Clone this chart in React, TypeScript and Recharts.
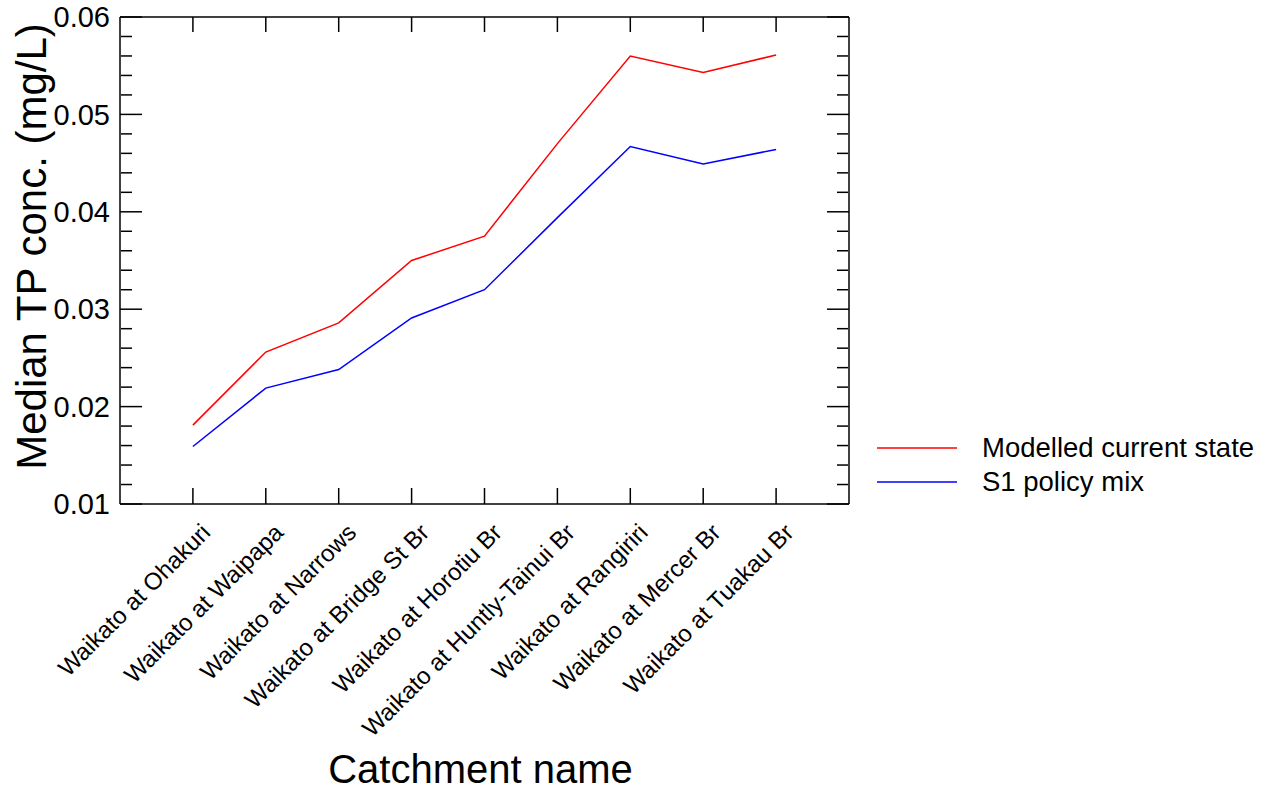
import React from 'react';
import { LineChart, Line, XAxis, YAxis, Legend } from 'recharts';

const categories = [
  'Waikato at Ohakuri',
  'Waikato at Waipapa',
  'Waikato at Narrows',
  'Waikato at Bridge St Br',
  'Waikato at Horotiu Br',
  'Waikato at Huntly-Tainui Br',
  'Waikato at Rangiriri',
  'Waikato at Mercer Br',
  'Waikato at Tuakau Br',
];
const modelledCurrentState = [0.0181, 0.0256, 0.0286, 0.035, 0.0375, 0.047, 0.056, 0.0543, 0.0561];
const s1PolicyMix = [0.0159, 0.0219, 0.0238, 0.0291, 0.032, 0.0394, 0.0467, 0.0449, 0.0464];
const categoryPositions = [1, 2, 3, 4, 5, 6, 7, 8, 9];
const xDomain = [0, 10];
const yDomain = [0.01, 0.06];
const yMajorTicks = [0.01, 0.02, 0.03, 0.04, 0.05, 0.06];
const yTickLabels = ['0.01', '0.02', '0.03', '0.04', '0.05', '0.06'];
const yMinorTicks = [
  0.012, 0.014, 0.016, 0.018, 0.022, 0.024, 0.026, 0.028, 0.032, 0.034, 0.036, 0.038,
  0.042, 0.044, 0.046, 0.048, 0.052, 0.054, 0.056, 0.058,
];
const seriesNames = ['Modelled current state', 'S1 policy mix'];
const seriesColors = ['#ff0000', '#0000ff'];

const data = categories.map((name, i) => ({
  pos: categoryPositions[i],
  name,
  modelled: modelledCurrentState[i],
  s1: s1PolicyMix[i],
}));

const FONT = '"Liberation Sans", Arial, Helvetica, sans-serif';
const AX = { stroke: '#000', strokeWidth: 1.5 };
const NoLabel = () => <g />;

const CategoryTick = (props: any) => {
  const { x, y, payload } = props;
  const label = categories[categoryPositions.indexOf(payload.value)] ?? '';
  const px = x + 19;
  const py = y + 30;
  return (
    <text
      x={px}
      y={py}
      transform={`rotate(-45 ${px} ${py})`}
      textAnchor="end"
      fontSize={24}
      fontFamily={FONT}
      fill="#000"
    >
      {label}
    </text>
  );
};

const YTitle = (props: any) => {
  const vb = props.viewBox || { x: 0, y: 17, width: 120, height: 487 };
  const cx = vb.x + 46;
  const cy = vb.y + vb.height / 2 - 14;
  return (
    <text
      x={cx}
      y={cy}
      transform={`rotate(-90 ${cx} ${cy})`}
      textAnchor="middle"
      fontSize={42}
      fontFamily={FONT}
      fill="#000"
    >
      Median TP conc. (mg/L)
    </text>
  );
};

const XTitle = (props: any) => {
  const vb = props.viewBox || { x: 120, y: 504, width: 729, height: 286 };
  return (
    <text
      x={vb.x + vb.width / 2 - 4}
      y={vb.y + 279}
      textAnchor="middle"
      fontSize={40}
      fontFamily={FONT}
      fill="#000"
    >
      Catchment name
    </text>
  );
};

const LegendContent = (props: any) => {
  const payload = props.payload || [];
  return (
    <div style={{ fontFamily: FONT, whiteSpace: 'nowrap' }}>
      {payload.map((p: any, i: number) => (
        <div key={i} style={{ display: 'flex', alignItems: 'center', height: 34 }}>
          <svg width={80} height={4} style={{ display: 'block' }}>
            <line x1={0} x2={80} y1={2} y2={2} stroke={p.color} strokeWidth={1.5} />
          </svg>
          <span style={{ marginLeft: 25, fontSize: 27.5, color: '#000', lineHeight: '34px' }}>{p.value}</span>
        </div>
      ))}
    </div>
  );
};

export default function App() {
  return (
    <div style={{ position: 'absolute', left: 0, top: 0, width: 1269, height: 790, background: '#fff' }}>
      <LineChart width={1269} height={790} data={data} margin={{ top: 17, right: 420, bottom: 0, left: 0 }}>
        <XAxis
          xAxisId="frameBottom"
          orientation="bottom"
          mirror
          height={1}
          type="number"
          dataKey="pos"
          domain={xDomain}
          ticks={categoryPositions}
          allowDataOverflow
          interval={0}
          tick={NoLabel}
          tickSize={16}
          axisLine={AX}
          tickLine={AX}
        />
        <XAxis
          xAxisId="frameTop"
          orientation="top"
          mirror
          height={1}
          type="number"
          dataKey="pos"
          domain={xDomain}
          ticks={categoryPositions}
          allowDataOverflow
          interval={0}
          tick={NoLabel}
          tickSize={15}
          axisLine={AX}
          tickLine={AX}
        />
        <YAxis
          yAxisId="frameLeftMajor"
          orientation="left"
          mirror
          width={1}
          type="number"
          domain={yDomain}
          ticks={yMajorTicks}
          allowDataOverflow
          interval={0}
          tick={NoLabel}
          tickSize={22}
          axisLine={AX}
          tickLine={AX}
        />
        <YAxis
          yAxisId="frameLeftMinor"
          orientation="left"
          mirror
          width={1}
          type="number"
          domain={yDomain}
          ticks={yMinorTicks}
          allowDataOverflow
          interval={0}
          tick={NoLabel}
          tickSize={11}
          axisLine={false}
          tickLine={AX}
        />
        <YAxis
          yAxisId="frameRightMajor"
          orientation="right"
          mirror
          width={1}
          type="number"
          domain={yDomain}
          ticks={yMajorTicks}
          allowDataOverflow
          interval={0}
          tick={NoLabel}
          tickSize={22}
          axisLine={AX}
          tickLine={AX}
        />
        <YAxis
          yAxisId="frameRightMinor"
          orientation="right"
          mirror
          width={1}
          type="number"
          domain={yDomain}
          ticks={yMinorTicks}
          allowDataOverflow
          interval={0}
          tick={NoLabel}
          tickSize={11}
          axisLine={false}
          tickLine={AX}
        />
        <XAxis
          xAxisId="main"
          orientation="bottom"
          height={286}
          type="number"
          dataKey="pos"
          domain={xDomain}
          ticks={categoryPositions}
          allowDataOverflow
          axisLine={false}
          tickLine={false}
          tickSize={0}
          tickMargin={0}
          tick={<CategoryTick />}
          interval={0}
          label={(p: any) => <XTitle {...p} />}
        />
        <YAxis
          yAxisId="main"
          orientation="left"
          width={120}
          type="number"
          domain={yDomain}
          ticks={yMajorTicks}
          allowDataOverflow
          axisLine={false}
          tickLine={false}
          tickSize={0}
          tickMargin={10}
          interval={0}
          tickFormatter={(v: number) => yTickLabels[yMajorTicks.indexOf(v)] ?? String(v)}
          tick={{ fontSize: 29, fontFamily: FONT, fill: '#000' }}
          label={(p: any) => <YTitle {...p} />}
        />
        <Line
          xAxisId="main"
          yAxisId="main"
          type="linear"
          dataKey="modelled"
          name={seriesNames[0]}
          stroke={seriesColors[0]}
          strokeWidth={1.5}
          dot={false}
          activeDot={false}
          isAnimationActive={false}
        />
        <Line
          xAxisId="main"
          yAxisId="main"
          type="linear"
          dataKey="s1"
          name={seriesNames[1]}
          stroke={seriesColors[1]}
          strokeWidth={1.5}
          dot={false}
          activeDot={false}
          isAnimationActive={false}
        />
        <Legend
          layout="vertical"
          align="center"
          verticalAlign="middle"
          content={<LegendContent />}
          wrapperStyle={{ left: 877, top: 431, width: 'auto', height: 'auto' }}
        />
      </LineChart>
    </div>
  );
}
